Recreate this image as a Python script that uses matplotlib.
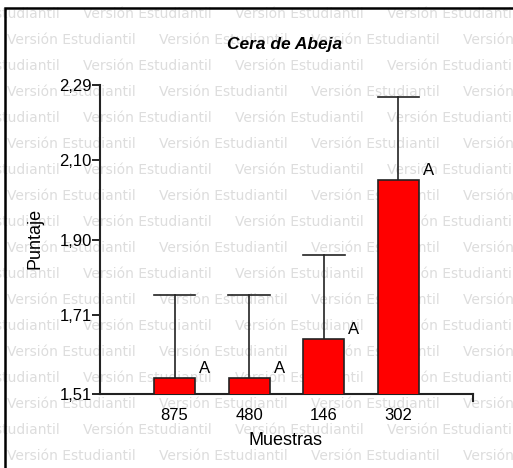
import matplotlib
matplotlib.use("Agg")
import matplotlib.pyplot as plt
from matplotlib.patches import Rectangle

# data
muestras = ["875", "480", "146", "302"]
puntaje = [1.55, 1.55, 1.65, 2.05]
error_sup = [0.21, 0.21, 0.21, 0.21]
letras = ["A", "A", "A", "A"]
yticks = [1.51, 1.71, 1.90, 2.10, 2.29]
ytick_labels = ["1,51", "1,71", "1,90", "2,10", "2,29"]

plt.rcParams["font.family"] = ["Liberation Sans", "DejaVu Sans"]

W, H = 513, 468
fig = plt.figure(figsize=(W / 100, H / 100), dpi=100)
fig.patch.set_facecolor("white")

# watermark, drawn behind everything
wm = "Versión Estudiantil"
period = 152
for row in range(18):
    y = 14 + row * 26
    off = 83 if row % 2 == 0 else 7
    x = off - 2 * period
    while x < W + period:
        fig.text(x / W, 1 - y / H, wm, color="#dddddd", fontsize=10,
                 family="DejaVu Sans", ha="left", va="center", zorder=-10)
        x += period

# outer frame
fig.patches.append(Rectangle((5 / W, -0.05), 1.2, 1 - 8 / H + 0.05,
                             transform=fig.transFigure, fill=False,
                             edgecolor="black", linewidth=1.8, zorder=5))

ax = fig.add_axes([100 / W, 1 - 394 / H, 373 / W, 309 / H])
ax.set_zorder(2)
ax.patch.set_alpha(0)

x = list(range(1, len(muestras) + 1))
ax.bar(x, puntaje, width=0.55, bottom=0, color="#ff0000",
       edgecolor="#222222", linewidth=1.2, zorder=3)
for xi, v, e in zip(x, puntaje, error_sup):
    ax.plot([xi, xi], [v, v + e], color="#222222", lw=1.2, zorder=2)
    ax.plot([xi - 0.28, xi + 0.28], [v + e, v + e], color="#222222", lw=1.2, zorder=2)
for xi, v, t in zip(x, puntaje, letras):
    ax.text(xi + 0.4, v + 0.005, t, fontsize=12, ha="center", va="bottom", zorder=4)

ax.set_xlim(0, 5)
ax.set_ylim(1.51, 2.29)
ax.set_yticks(yticks)
ax.set_yticklabels(ytick_labels, fontsize=12)
ax.set_xticks(x)
ax.set_xticklabels(muestras, fontsize=12)
ax.tick_params(axis="x", length=0, pad=10)
ax.tick_params(axis="y", length=6, width=1.2, direction="out", pad=0)
for s in ["top", "right"]:
    ax.spines[s].set_visible(False)
for s in ["left", "bottom"]:
    ax.spines[s].set_linewidth(1.5)
    ax.spines[s].set_color("#222222")
# end tick on x axis
ax.plot([5, 5], [1.51, 1.51 - 0.017], color="#222222", lw=1.5, clip_on=False)

ax.set_xlabel("Muestras", fontsize=13)
ax.xaxis.set_label_coords(0.496, -0.149)
ax.set_ylabel("Puntaje", fontsize=13)
ax.yaxis.set_label_coords(-0.174, 0.505)
for lab in (ax.xaxis.label, ax.yaxis.label):
    lab.set_va("center")
fig.text(285 / W, 1 - 45 / H, "Cera de Abeja", fontsize=12.5, fontweight="bold",
         fontstyle="italic", ha="center", va="center", zorder=6)

fig.savefig("out.png", dpi=100, facecolor="white")
